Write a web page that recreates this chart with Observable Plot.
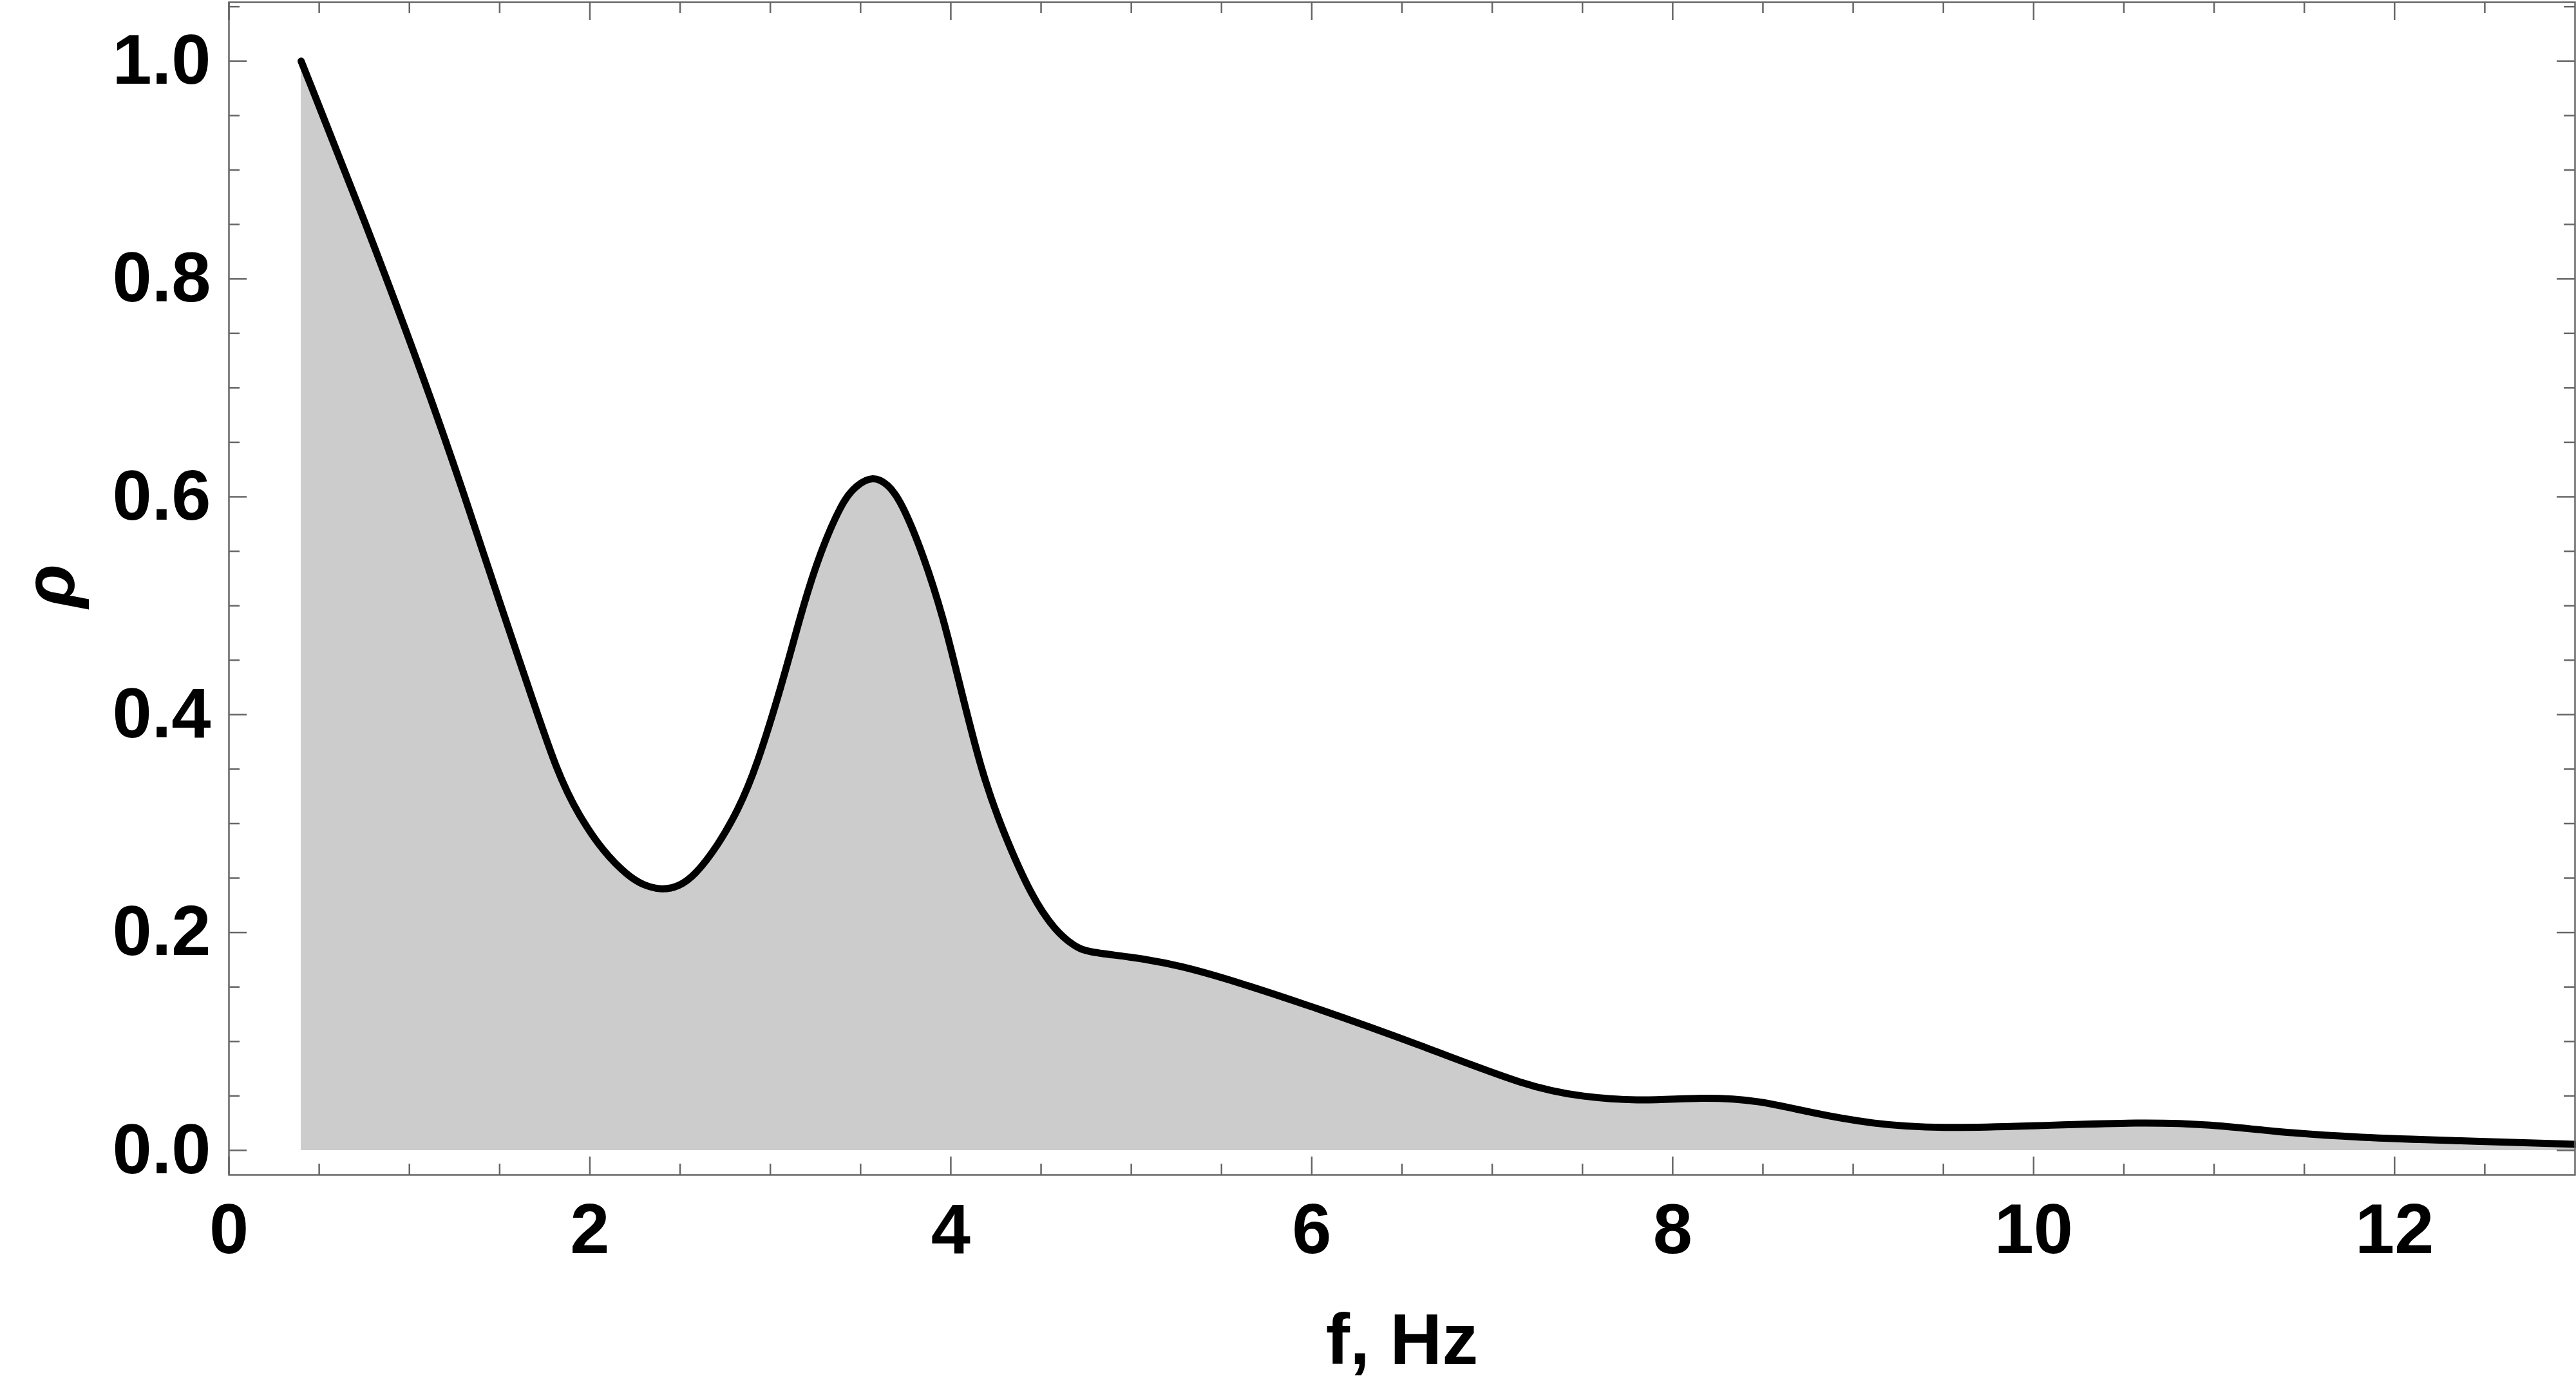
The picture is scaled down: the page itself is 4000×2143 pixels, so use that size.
<!DOCTYPE html>
<html><head><meta charset="utf-8">
<script src="https://cdn.jsdelivr.net/npm/d3@7"></script>
<script src="https://cdn.jsdelivr.net/npm/@observablehq/plot@0.6"></script>
<style>html,body{margin:0;padding:0;background:#fff;} svg{display:block;}</style>
</head><body><div id="chart"></div>
<script>
const freq = [0.4, 0.75, 1.1, 1.31, 1.51, 1.65, 1.82, 1.94, 2.075, 2.21, 2.30, 2.40, 2.49, 2.58, 2.71, 2.82, 2.92, 3.07, 3.16, 3.26, 3.40, 3.48, 3.568, 3.65, 3.725, 3.85, 3.96, 4.04, 4.17, 4.29, 4.45, 4.58, 4.68, 4.75, 4.99, 5.27, 5.6, 6.02, 6.59, 7.2, 7.5, 7.84, 8.16, 8.48, 8.75, 9.11, 9.48, 10.02, 10.6, 10.98, 11.35, 11.8, 12.35, 13.0];
const rho = [1.0, 0.855, 0.70, 0.599, 0.498, 0.43, 0.346, 0.307, 0.274, 0.252, 0.243, 0.239, 0.242, 0.252, 0.280, 0.312, 0.350, 0.431, 0.487, 0.5425, 0.597, 0.611, 0.619, 0.612, 0.596, 0.546, 0.488, 0.434, 0.347, 0.292, 0.232, 0.2015, 0.188, 0.182, 0.178, 0.170, 0.154, 0.131, 0.0975, 0.058, 0.049, 0.045, 0.049, 0.046, 0.035, 0.024, 0.020, 0.0226, 0.026, 0.024, 0.0168, 0.0118, 0.0089, 0.0056];
const xMajorTicks = [0, 2, 4, 6, 8, 10, 12];
const xMinorTicks = [0.5, 1, 1.5, 2.5, 3, 3.5, 4.5, 5, 5.5, 6.5, 7, 7.5, 8.5, 9, 9.5, 10.5, 11, 11.5, 12.5];
const yMajorTicks = [0, 0.2, 0.4, 0.6, 0.8, 1.0];
const yMinorTicks = [0.05, 0.1, 0.15, 0.25, 0.3, 0.35, 0.45, 0.5, 0.55, 0.65, 0.7, 0.75, 0.85, 0.9, 0.95, 1.05];
const xLabel = "f, Hz";
const yLabel = "ρ";

const data = freq.map((f, i) => ({f, rho: rho[i]}));

const W = 4000, H = 2143, mL = 355, mR = 2, mT = 3, mB = 319;
const fw = W - mL - mR, fh = H - mT - mB;
const major = 28, minor = 17;
const tk = {stroke: "#666", strokeWidth: 2.5};
const font = "'Liberation Sans', Arial, sans-serif";

const plot = Plot.plot({
  width: W, height: H,
  marginLeft: mL, marginRight: mR, marginTop: mT, marginBottom: mB,
  style: {fontFamily: font, background: "#fff", color: "#000"},
  x: {domain: [0, 13]},
  y: {domain: [-0.0225, 1.054]},
  marks: [
    Plot.areaY(data, {x: "f", y: "rho", fill: "#cccccc", curve: "basis"}),
    Plot.lineY(data, {x: "f", y: "rho", stroke: "#000", strokeWidth: 11, curve: "basis", strokeLinejoin: "round"}),
    Plot.frame({stroke: "#666", strokeWidth: 2.5}),
    // bottom ticks
    Plot.tickX(xMajorTicks, {x: d => d, insetTop: fh - major, ...tk}),
    Plot.tickX(xMinorTicks, {x: d => d, insetTop: fh - minor, ...tk}),
    // top ticks
    Plot.tickX(xMajorTicks, {x: d => d, insetBottom: fh - major, ...tk}),
    Plot.tickX(xMinorTicks, {x: d => d, insetBottom: fh - minor, ...tk}),
    // left ticks
    Plot.tickY(yMajorTicks, {y: d => d, insetRight: fw - major, ...tk}),
    Plot.tickY(yMinorTicks, {y: d => d, insetRight: fw - minor, ...tk}),
    // right ticks
    Plot.tickY(yMajorTicks, {y: d => d, insetLeft: fw - major, ...tk}),
    Plot.tickY(yMinorTicks, {y: d => d, insetLeft: fw - minor, ...tk}),
    Plot.axisX(xMajorTicks, {tickSize: 0, tickPadding: 43, fontSize: 110, fontWeight: "bold", label: null, tickFormat: d => String(d)}),
    Plot.axisY(yMajorTicks, {tickSize: 0, tickPadding: 28, fontSize: 110, fontWeight: "bold", label: null, tickFormat: d3.format(".1f")}),
    Plot.text([xLabel], {text: d => d, frameAnchor: "bottom", dy: 293, lineAnchor: "bottom", fontSize: 112, fontWeight: "bold", fill: "#000"}),
    Plot.text([yLabel], {text: d => d, frameAnchor: "left", dx: -276, dy: 30, rotate: -90, fontSize: 112, fontWeight: "bold", fontStyle: "italic", fill: "#000"})
  ]
});
document.getElementById("chart").appendChild(plot);
</script>
</body></html>
